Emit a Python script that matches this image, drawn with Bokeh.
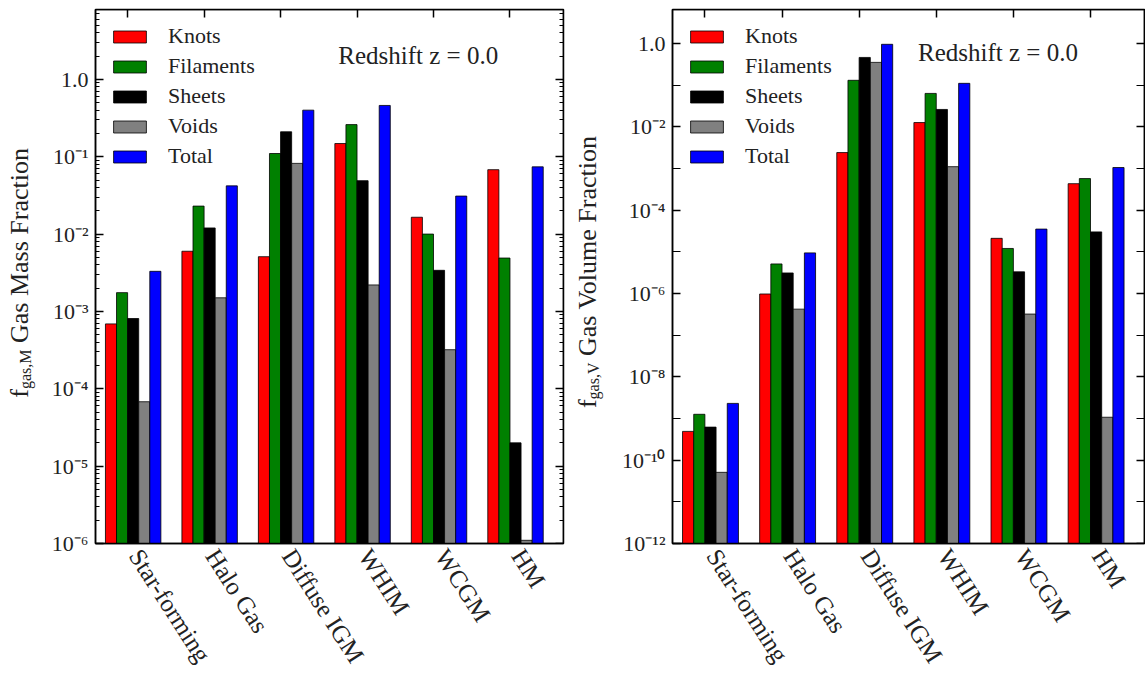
import numpy as np
from bokeh.plotting import figure
from bokeh.layouts import row
from bokeh.models import (FixedTicker, LogAxis, LinearAxis, Legend, LegendItem,
                          Label, ColumnDataSource, Range1d, Div)
from bokeh.embed import file_html
from bokeh.resources import INLINE

categories = ["Star-forming", "Halo Gas", "Diffuse IGM", "WHIM", "WCGM", "HM"]
series_names = ["Knots", "Filaments", "Sheets", "Voids", "Total"]
series_colors = ["#ff0000", "#008000", "#000000", "#808080", "#0000ff"]

mass_knots = [6.9e-4, 6.0e-3, 5.1e-3, 0.148, 0.0165, 0.068]
mass_filaments = [1.75e-3, 0.023, 0.11, 0.26, 0.010, 4.9e-3]
mass_sheets = [8.1e-4, 0.012, 0.21, 0.049, 3.4e-3, 2.0e-5]
mass_voids = [6.8e-5, 1.5e-3, 0.082, 2.2e-3, 3.2e-4, 1.1e-6]
mass_total = [3.3e-3, 0.042, 0.40, 0.46, 0.031, 0.074]

vol_knots = [4.9e-10, 9.7e-7, 2.4e-3, 0.0126, 2.1e-5, 4.3e-4]
vol_filaments = [1.26e-9, 5.1e-6, 0.13, 0.063, 1.2e-5, 5.7e-4]
vol_sheets = [6.2e-10, 3.1e-6, 0.46, 0.026, 3.3e-6, 3.0e-5]
vol_voids = [5.1e-11, 4.2e-7, 0.35, 1.1e-3, 3.2e-7, 1.07e-9]
vol_total = [2.3e-9, 9.4e-6, 0.95, 0.11, 3.5e-5, 1.05e-3]

mass_ticks = [1e-6, 1e-5, 1e-4, 1e-3, 1e-2, 1e-1, 1.0]
mass_tick_labels = ["10⁻⁶", "10⁻⁵", "10⁻⁴", "10⁻³", "10⁻²", "10⁻¹", "1.0"]
vol_ticks = [1e-12, 1e-10, 1e-8, 1e-6, 1e-4, 1e-2, 1.0]
vol_tick_labels = ["10⁻¹²", "10⁻¹⁰", "10⁻⁸", "10⁻⁶", "10⁻⁴", "10⁻²", "1.0"]
vol_odd_ticks = [1e-11, 1e-9, 1e-7, 1e-5, 1e-3, 1e-1]

FONT = "Liberation Serif"
W = 0.145
LABEL_SHIFT = 0.1
X_LO, X_HI = -0.42, 5.70


def make_panel(series, y_lo, y_hi, majors, major_labels, minors, minor_in,
               width, mbl, mbr, mbt, red_y):
    p = figure(width=width, height=680, y_axis_type="log",
               x_range=Range1d(X_LO, X_HI), y_range=Range1d(y_lo, y_hi),
               output_backend="svg", toolbar_location=None,
               min_border_left=mbl, min_border_right=mbr,
               min_border_top=mbt, min_border_bottom=680 - 543,
               background_fill_color="white", border_fill_color="white")
    p.grid.visible = False
    p.outline_line_color = "black"
    p.outline_line_width = 1.5
    xs0 = np.arange(len(categories))
    items = []
    for k, (name, vals, color) in enumerate(zip(series_names, series, series_colors)):
        src = ColumnDataSource(dict(x=xs0 + (k - 2) * W + W / 2, top=vals,
                                    bottom=[y_lo * 1e-3] * len(vals)))
        r = p.vbar(x="x", top="top", bottom="bottom", width=W, source=src,
                   fill_color=color, line_color="black", line_width=0.8)
        items.append(LegendItem(label=name, renderers=[r]))

    # left y axis
    ya = p.yaxis[0]
    ya.ticker = FixedTicker(ticks=majors, minor_ticks=minors)
    ya.major_label_overrides = {t: s for t, s in zip(majors, major_labels)}
    ya.major_tick_in = 8
    ya.major_tick_out = 0
    ya.minor_tick_in = minor_in
    ya.minor_tick_out = 0
    ya.major_label_standoff = 7
    ya.major_label_text_font = FONT
    ya.major_label_text_font_size = "22px"
    ya.major_label_text_color = "#222222"
    ya.axis_line_width = 1.5
    ya.major_tick_line_width = 1.5
    ya.minor_tick_line_width = 1.2

    # right mirrored axis (ticks only), pinned to the frame edge
    ra = LogAxis(ticker=FixedTicker(ticks=majors, minor_ticks=minors),
                 fixed_location=X_HI,
                 major_tick_in=8, major_tick_out=0, minor_tick_in=minor_in,
                 minor_tick_out=0, major_label_text_font_size="1px",
                 major_label_text_color=None, axis_label_standoff=0,
                 major_label_standoff=0, axis_line_width=1.5,
                 major_tick_line_width=1.5, minor_tick_line_width=1.2)
    p.add_layout(ra, "right")

    # bottom x axis: category names
    label_pos = [i + LABEL_SHIFT for i in range(len(categories))]
    xa = p.xaxis[0]
    xa.ticker = FixedTicker(ticks=label_pos, minor_ticks=[])
    xa.major_label_overrides = {t: c for t, c in zip(label_pos, categories)}
    xa.major_label_orientation = -1.0
    xa.major_tick_in = 0
    xa.major_tick_out = 0
    xa.major_label_standoff = 8
    xa.major_label_text_font = FONT
    xa.major_label_text_font_size = "25px"
    xa.major_label_text_color = "#222222"
    xa.axis_line_width = 1.5

    # top mirrored ticks, pinned to the frame edge
    ta = LinearAxis(ticker=FixedTicker(ticks=list(range(len(categories))), minor_ticks=[]),
                    fixed_location=y_hi,
                    major_tick_in=8, major_tick_out=0, major_label_text_font_size="1px",
                    major_label_text_color=None, axis_label_standoff=0,
                    major_label_standoff=0, axis_line_width=1.5, major_tick_line_width=1.5)
    p.add_layout(ta, "above")

    legend = Legend(items=items, location="top_left", border_line_color=None,
                    background_fill_alpha=0, glyph_width=41, glyph_height=15,
                    label_standoff=18, label_text_font=FONT,
                    label_text_font_size="22px", label_text_color="#222222",
                    spacing=4, padding=16, margin=14)
    p.add_layout(legend)

    p.add_layout(Label(x=3.80, y=red_y, text="Redshift z = 0.0",
                       text_font=FONT, text_font_size="25px", text_color="#222222",
                       text_align="center", text_baseline="middle"))
    return p


def ylabel_div(width, box_h, pad, sub, main):
    html = (
        f'<div style="width:{width}px;height:{box_h}px;display:flex;align-items:center;'
        f'justify-content:flex-start;padding-left:{pad}px;box-sizing:border-box;">'
        '<div style="writing-mode:vertical-rl;transform:rotate(180deg);'
        "font-family:'Liberation Serif';font-size:26px;line-height:26px;"
        'color:#222222;white-space:nowrap;">'
        f'f<sub style="font-size:16px;line-height:0;">{sub}</sub> {main}</div></div>'
    )
    return Div(text=html, width=width, height=680, margin=0)


mass_minor = [m * 10.0 ** e for e in range(-6, 1) for m in range(2, 10)]

p1 = make_panel([mass_knots, mass_filaments, mass_sheets, mass_voids, mass_total],
                1e-6, 8.0, mass_ticks, mass_tick_labels, mass_minor, 4,
                535, 55, 12, 9, 2.04)
p2 = make_panel([vol_knots, vol_filaments, vol_sheets, vol_voids, vol_total],
                1e-12, 6.5, vol_ticks, vol_tick_labels, vol_odd_ticks, 8,
                535, 62, 1, 9, 0.61)

d1 = ylabel_div(40, 546, 7, "gas,M", "Gas Mass Fraction")
d2 = ylabel_div(35, 544, 0, "gas,V", "Gas Volume Fraction")

layout = row(d1, p1, d2, p2)
open("out.html", "w").write(file_html(layout, INLINE))
